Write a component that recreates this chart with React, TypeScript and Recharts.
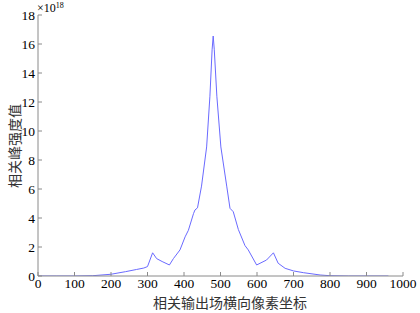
import React from 'react';
import { LineChart, Line, XAxis, YAxis } from 'recharts';

const pixelX = [0, 50, 100, 150, 200, 240, 270, 290, 300, 314, 325, 340, 360, 371, 389, 403, 412, 426, 430, 437, 448, 462, 471, 477, 480, 483, 490, 501, 517, 526, 535, 549, 567, 576, 599, 626, 645, 658, 677, 700, 727, 773, 800, 850, 900, 960];
const peakValue = [0, 0, 0, 0.02, 0.12, 0.3, 0.45, 0.55, 0.65, 1.6, 1.2, 1.0, 0.76, 1.2, 1.8, 2.7, 3.15, 4.3, 4.55, 4.7, 6.2, 8.9, 12.4, 15.6, 16.55, 15.6, 12.4, 8.9, 6.2, 4.67, 4.43, 3.2, 2.1, 1.8, 0.76, 1.1, 1.6, 0.88, 0.53, 0.35, 0.23, 0.07, 0.02, 0, 0, 0];
const xTicks = [0, 100, 200, 300, 400, 500, 600, 700, 800, 900, 1000];
const yTicks = [0, 2, 4, 6, 8, 10, 12, 14, 16, 18];

const data = pixelX.map((x, i) => ({ x, v: peakValue[i] }));

const axisColor = '#8a8a8a';
const serif = 'Liberation Serif';
const tickFont = { fontSize: 13.5, fill: '#000', fontFamily: serif };
const empty = () => <g />;

export default function App() {
  return (
    <div style={{ position: 'absolute', left: 0, top: 0, width: 420, height: 313, background: '#fff', fontFamily: serif }}>
      <LineChart width={420} height={313} data={data} margin={{ top: 15, right: 17, bottom: 9, left: 8 }}>
        <XAxis dataKey="x" type="number" domain={[0, 1000]} ticks={xTicks} allowDataOverflow
          stroke={axisColor} tickSize={-4} tickMargin={6} height={28} tick={tickFont} interval={0} />
        <XAxis xAxisId="top" orientation="top" dataKey="x" type="number" domain={[0, 1000]} ticks={xTicks}
          stroke={axisColor} tickSize={-4} height={0} tick={empty} interval={0} />
        <YAxis type="number" domain={[0, 18]} ticks={yTicks} allowDataOverflow
          stroke={axisColor} tickSize={-4} tickMargin={7} width={30} tick={tickFont} interval={0} />
        <YAxis yAxisId="right" orientation="right" type="number" domain={[0, 18]} ticks={yTicks}
          stroke={axisColor} tickSize={-4} width={0} tick={empty} interval={0} />
        <Line type="linear" dataKey="v" stroke="#6a6aff" strokeWidth={1} dot={false} isAnimationActive={false} />
      </LineChart>
      <svg width={420} height={313} style={{ position: 'absolute', left: 0, top: 0, pointerEvents: 'none' }}>
        <text x={37} y={12} fontFamily={serif} fontSize={12} fill="#000">
          ×10<tspan fontSize={8} dy={-4}>18</tspan>
        </text>
        <text x={230} y={308} textAnchor="middle" fontFamily="Noto Sans CJK SC" fontSize={14} fill="#333">相关输出场横向像素坐标</text>
        <text x={20} y={146} textAnchor="middle" transform="rotate(-90 20 146)" fontFamily="Noto Sans CJK SC" fontSize={14} fill="#333">相关峰强度值</text>
      </svg>
    </div>
  );
}
